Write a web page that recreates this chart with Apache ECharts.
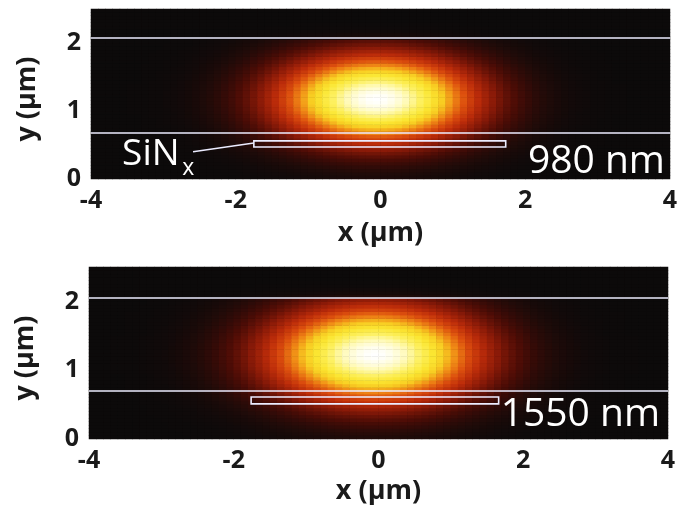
<!DOCTYPE html>
<html><head><meta charset="utf-8">
<script src="https://cdn.jsdelivr.net/npm/echarts@6/dist/echarts.min.js"></script>
<style>html,body{margin:0;padding:0;background:#fff}#c{width:677px;height:517px}</style>
</head><body><div id="c"></div>
<script>
// cell centres (µm)
const xCells = [-3.95,-3.85,-3.75,-3.65,-3.55,-3.45,-3.35,-3.25,-3.15,-3.05,-2.95,-2.85,-2.75,-2.65,-2.55,-2.45,-2.35,-2.25,-2.15,-2.05,
  -1.95,-1.85,-1.75,-1.65,-1.55,-1.45,-1.35,-1.25,-1.15,-1.05,-0.95,-0.85,-0.75,-0.65,-0.55,-0.45,-0.35,-0.25,-0.15,-0.05,
  0.05,0.15,0.25,0.35,0.45,0.55,0.65,0.75,0.85,0.95,1.05,1.15,1.25,1.35,1.45,1.55,1.65,1.75,1.85,1.95,
  2.05,2.15,2.25,2.35,2.45,2.55,2.65,2.75,2.85,2.95,3.05,3.15,3.25,3.35,3.45,3.55,3.65,3.75,3.85,3.95];
const yCells = [0.025,0.075,0.125,0.175,0.225,0.275,0.325,0.375,0.425,0.475,0.525,0.575,0.625,0.675,0.725,0.775,0.825,0.875,0.925,0.975,
  1.025,1.075,1.125,1.175,1.225,1.275,1.325,1.375,1.425,1.475,1.525,1.575,1.625,1.675,1.725,1.775,1.825,1.875,1.925,1.975,
  2.025,2.075,2.125,2.175,2.225,2.275,2.325,2.375,2.425,2.475];

// mode intensity profiles (normalised)
const xProfile980 = [0,0,0,0,0,0.001,0.001,0.002,0.003,0.004,0.006,0.008,0.011,0.015,0.021,0.029,0.038,0.050,0.066,0.085,
  0.108,0.135,0.168,0.206,0.249,0.298,0.352,0.411,0.474,0.539,0.607,0.674,0.739,0.801,0.857,0.906,0.946,0.976,0.994,1.0,
  0.994,0.976,0.946,0.906,0.857,0.801,0.739,0.674,0.607,0.539,0.474,0.411,0.352,0.298,0.249,0.206,0.168,0.135,0.108,0.085,
  0.066,0.050,0.038,0.029,0.021,0.015,0.011,0.008,0.006,0.004,0.003,0.002,0.001,0.001,0,0,0,0,0,0];
const yProfile980 = [0.024,0.032,0.044,0.059,0.078,0.101,0.129,0.163,0.203,0.250,0.302,0.361,0.424,0.493,0.563,0.636,0.707,0.775,0.838,0.893,
  0.938,0.972,0.993,1.0,0.993,0.972,0.938,0.893,0.838,0.775,0.707,0.636,0.563,0.493,0.424,0.361,0.302,0.250,0.203,0.163,
  0.129,0.03,0.015,0.008,0.004,0.002,0,0,0,0];
const xProfile1550 = [0,0,0,0.001,0.001,0.002,0.002,0.003,0.005,0.007,0.009,0.013,0.018,0.024,0.031,0.041,0.053,0.068,0.087,0.109,
  0.135,0.166,0.202,0.242,0.287,0.338,0.392,0.450,0.512,0.575,0.638,0.701,0.762,0.819,0.871,0.915,0.951,0.978,0.994,1.0,
  0.994,0.978,0.951,0.915,0.871,0.819,0.762,0.701,0.638,0.575,0.512,0.450,0.392,0.338,0.287,0.242,0.202,0.166,0.135,0.109,
  0.087,0.068,0.053,0.041,0.031,0.024,0.018,0.013,0.009,0.007,0.005,0.003,0.002,0.002,0.001,0.001,0,0,0,0];
const yProfile1550 = [0.033,0.044,0.057,0.074,0.094,0.118,0.147,0.181,0.220,0.265,0.314,0.368,0.427,0.489,0.554,0.620,0.685,0.749,0.808,0.863,
  0.910,0.948,0.977,0.994,1.0,0.994,0.977,0.948,0.910,0.863,0.808,0.749,0.685,0.620,0.554,0.489,0.427,0.368,0.314,0.265,
  0.220,0.03,0.015,0.008,0.004,0.002,0,0,0,0];

// structure (µm)
const claddingLines980 = [2.07, 0.68];
const claddingLines1550 = [2.06, 0.70];
const waveguide980 = [-1.75, 0.47, 1.73, 0.56];
const waveguide1550 = [-1.76, 0.51, 1.66, 0.61];
const leader980 = [[-2.59, 0.40], [-1.75, 0.53]];
const wavelengthLabels = ['980 nm', '1550 nm'];
const xRange = [-4, 4], xStep = 2;
const yRange = [0, 2.5], yStep = 1;

function field(xp, yp) {
  const out = [];
  for (let i = 0; i < xp.length; i++)
    for (let j = 0; j < yp.length; j++)
      out.push([i, j, +(xp[i] * yp[j]).toFixed(4)]);
  return out;
}

const FONT = '"Open Sans", "Noto Sans", sans-serif';
const tickLabel = {color: '#1a1a1a', fontFamily: FONT, fontWeight: 'bold', fontSize: 25};
const nameStyle = {color: '#1a1a1a', fontFamily: FONT, fontWeight: 'bold', fontSize: 27};
const LINE = '#ececff';

function valX(grid, gap) {
  return {type: 'value', gridIndex: grid, position: 'bottom', min: xRange[0], max: xRange[1], interval: xStep,
    axisLine: {show: false}, axisTick: {show: false}, splitLine: {show: false},
    axisLabel: Object.assign({margin: 9}, tickLabel),
    name: 'x (µm)', nameLocation: 'middle', nameGap: gap, nameTextStyle: nameStyle};
}
function valY(grid) {
  return {type: 'value', gridIndex: grid, position: 'left', min: yRange[0], max: yRange[1], interval: yStep,
    axisLine: {show: false}, axisTick: {show: false}, splitLine: {show: false},
    axisLabel: Object.assign({margin: 10, showMaxLabel: false}, tickLabel),
    name: 'y (µm)', nameLocation: 'middle', nameGap: 50,
    nameTextStyle: Object.assign({padding: [0, 10, 0, 0]}, nameStyle)};
}
function catX(grid) { return {type: 'category', gridIndex: grid, position: 'top', data: xCells, show: false}; }
function catY(grid) { return {type: 'category', gridIndex: grid, position: 'right', data: yCells, show: false}; }
function overlay(xi, yi, lines, leader) {
  const ml = lines.map(v => ({yAxis: v}));
  if (leader) ml.push([{coord: leader[0]}, {coord: leader[1]}]);
  return {type: 'line', xAxisIndex: xi, yAxisIndex: yi, data: [], z: 10, silent: true,
    markLine: {symbol: 'none', silent: true, animation: false, label: {show: false},
      lineStyle: {color: LINE, width: 1.6, type: 'solid'}, emphasis: {disabled: true}, data: ml}};
}
function waveguide(xi, yi, wg) {
  return {type: 'custom', xAxisIndex: xi, yAxisIndex: yi, z: 11, silent: true, data: [wg],
    renderItem: function (params, api) {
      const p0 = api.coord([api.value(0), api.value(1)]);
      const p1 = api.coord([api.value(2), api.value(3)]);
      return {type: 'rect', shape: {x: p0[0], y: p1[1], width: p1[0] - p0[0], height: p0[1] - p1[1]},
        style: {fill: null, stroke: LINE, lineWidth: 1.6}};
    }};
}

const chart = echarts.init(document.getElementById('c'), null, {renderer: 'canvas'});
chart.setOption({
  animation: false,
  backgroundColor: '#ffffff',
  grid: [
    {left: 91, top: 9, width: 579, height: 170, show: true, backgroundColor: '#0c0a0a', borderWidth: 0, containLabel: false, outerBoundsMode: 'none'},
    {left: 89, top: 267, width: 579, height: 172, show: true, backgroundColor: '#0c0a0a', borderWidth: 0, containLabel: false, outerBoundsMode: 'none'}
  ],
  xAxis: [catX(0), valX(0, 41), catX(1), valX(1, 39)],
  yAxis: [catY(0), valY(0), catY(1), valY(1)],
  visualMap: {type: 'continuous', show: false, min: 0, max: 1, seriesIndex: [0, 1],
    inRange: {color: ['#0c0a0a','#4a0c06','#8a1a08','#bc2c0a','#dc4e0e','#f08a16','#f8cc22','#fbe632','#fdf060','#fffab8','#ffffff']}},
  series: [
    {type: 'heatmap', xAxisIndex: 0, yAxisIndex: 0, data: field(xProfile980, yProfile980), progressive: 0, emphasis: {disabled: true}, silent: true},
    {type: 'heatmap', xAxisIndex: 2, yAxisIndex: 2, data: field(xProfile1550, yProfile1550), progressive: 0, emphasis: {disabled: true}, silent: true},
    overlay(1, 1, claddingLines980, leader980),
    overlay(3, 3, claddingLines1550, null),
    waveguide(1, 1, waveguide980),
    waveguide(3, 3, waveguide1550)
  ]
});

function px(xi, yi, pt) { return chart.convertToPixel({xAxisIndex: xi, yAxisIndex: yi}, pt); }
const pSiN = px(1, 1, [-3.57, 0.36]);
const pSub = px(1, 1, [-2.74, 0.162]);
const p980 = px(1, 1, [3.93, 0.257]);
const p1550 = px(3, 3, [3.89, 0.356]);
chart.setOption({graphic: [
  {type: 'text', x: pSiN[0], y: pSiN[1], z: 20, style: {text: 'SiN', fill: '#fff', fontSize: 37, fontFamily: FONT, align: 'left', verticalAlign: 'middle'}},
  {type: 'text', x: pSub[0], y: pSub[1], z: 20, style: {text: 'x', fill: '#fff', fontSize: 23, fontFamily: FONT, align: 'left', verticalAlign: 'middle'}},
  {type: 'text', x: p980[0], y: p980[1], z: 20, style: {text: wavelengthLabels[0], fill: '#fff', fontSize: 39, fontFamily: FONT, align: 'right', verticalAlign: 'middle'}},
  {type: 'text', x: p1550[0], y: p1550[1], z: 20, style: {text: wavelengthLabels[1], fill: '#fff', fontSize: 39, fontFamily: FONT, align: 'right', verticalAlign: 'middle'}}
]});
</script></body></html>
